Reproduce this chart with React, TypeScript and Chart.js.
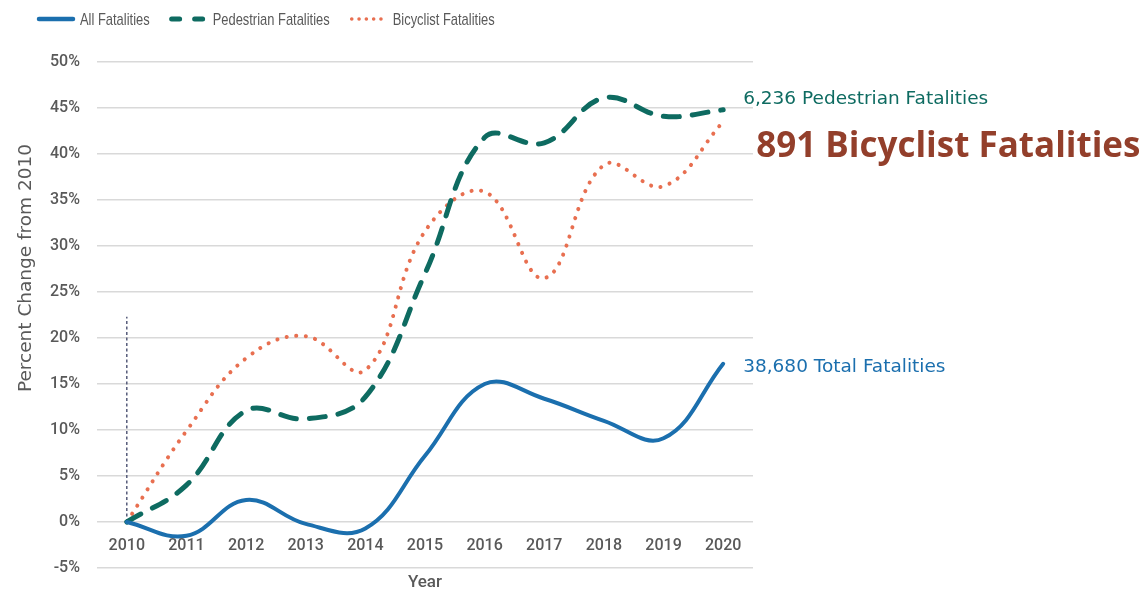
import React, { useEffect, useRef } from "react";
import { Chart, registerables } from "chart.js";

Chart.register(...registerables);

const years = ["2010", "2011", "2012", "2013", "2014", "2015", "2016", "2017", "2018", "2019", "2020"];
const allFatalities = [0, -1.5, 2.4, -0.2, -0.7, 7.2, 15.0, 13.4, 11.0, 9.1, 17.2];
const pedestrianFatalities = [0, 4.0, 12.1, 11.2, 13.6, 27.0, 41.8, 41.2, 46.1, 44.1, 44.8];
const bicyclistFatalities = [0, 9.9, 17.8, 20.2, 16.5, 31.6, 35.9, 26.5, 38.8, 36.5, 43.5];
const seriesNames = ["All Fatalities", "Pedestrian Fatalities", "Bicyclist Fatalities"];
const endLabels = ["38,680 Total Fatalities", "6,236 Pedestrian Fatalities", "891 Bicyclist Fatalities"];
const yAxisTitle = "Percent Change from 2010";
const xAxisTitle = "Year";
const baselineMarkerTop = 22.3;

const BLUE = "#1b6fae";
const GREEN = "#0e6b61";
const ORANGE = "#e86f50";
const BROWN = "#933f2b";
const GREY = "#595959";

const legendStyles = [
  { color: BLUE, width: 4.5, dash: [] as number[] },
  { color: GREEN, width: 5, dash: [8, 15] },
  { color: ORANGE, width: 3.5, dash: [0.1, 7.2] },
];

export default function App() {
  const ref = useRef<HTMLCanvasElement | null>(null);

  useEffect(() => {
    if (!ref.current) return;

    const annotate = {
      id: "annotate",
      beforeDatasetsDraw(chart: any) {
        const { ctx, scales } = chart;
        const x = scales.x.getPixelForValue(0);
        ctx.save();
        ctx.strokeStyle = "#565b7a";
        ctx.lineWidth = 1.5;
        ctx.setLineDash([3, 2.5]);
        ctx.beginPath();
        ctx.moveTo(x, scales.y.getPixelForValue(0));
        ctx.lineTo(x, scales.y.getPixelForValue(baselineMarkerTop));
        ctx.stroke();
        ctx.restore();
      },
      afterDatasetsDraw(chart: any) {
        const { ctx, scales, chartArea } = chart;
        const last = years.length - 1;
        const xr = scales.x.getPixelForValue(last) + 20;

        // category labels along the 0% line
        ctx.save();
        ctx.textBaseline = "middle";
        ctx.textAlign = "center";
        ctx.font = "500 16px Roboto";
        ctx.fillStyle = GREY;
        const y0 = scales.y.getPixelForValue(0);
        years.forEach((yr, i) => {
          ctx.fillText(yr, scales.x.getPixelForValue(i), y0 + 24);
        });
        ctx.restore();

        // end-of-line labels
        ctx.save();
        ctx.textBaseline = "middle";
        ctx.textAlign = "left";
        ctx.font = "18.5px 'DejaVu Sans'";
        ctx.fillStyle = BLUE;
        ctx.fillText(endLabels[0], xr, scales.y.getPixelForValue(allFatalities[last]) + 3);
        ctx.fillStyle = GREEN;
        ctx.fillText(endLabels[1], xr, scales.y.getPixelForValue(pedestrianFatalities[last]) - 11);
        ctx.fillStyle = BROWN;
        ctx.font = "bold 35px 'Open Sans'";
        ctx.fillText(endLabels[2], xr + 13, scales.y.getPixelForValue(bicyclistFatalities[last]) + 25);
        ctx.restore();

        // x axis title
        ctx.save();
        ctx.textBaseline = "middle";
        ctx.textAlign = "center";
        ctx.font = "500 17px Roboto";
        ctx.fillStyle = GREY;
        ctx.fillText(xAxisTitle, (chartArea.left + chartArea.right) / 2, chartArea.bottom + 15);
        ctx.restore();

        // y axis title
        ctx.save();
        ctx.translate(26, 268);
        ctx.rotate(-Math.PI / 2);
        ctx.textBaseline = "middle";
        ctx.textAlign = "center";
        ctx.font = "18.5px 'DejaVu Sans'";
        ctx.fillStyle = GREY;
        ctx.fillText(yAxisTitle, 0, 0);
        ctx.restore();

        // legend
        let x0 = 37;
        const ly = 19;
        chart.data.datasets.forEach((ds: any, i: number) => {
          const st = legendStyles[i];
          ctx.save();
          ctx.strokeStyle = st.color;
          ctx.lineWidth = st.width;
          ctx.lineCap = "round";
          ctx.setLineDash(st.dash);
          ctx.beginPath();
          ctx.moveTo(x0 + 2, ly);
          ctx.lineTo(x0 + 36, ly);
          ctx.stroke();
          ctx.restore();
          ctx.save();
          ctx.font = "17px 'Liberation Sans'";
          ctx.textAlign = "left";
          ctx.textBaseline = "middle";
          const w = ctx.measureText(ds.label).width * 0.76;
          ctx.translate(x0 + 43, ly);
          ctx.scale(0.76, 1);
          ctx.fillStyle = GREY;
          ctx.fillText(ds.label, 0, 1);
          ctx.restore();
          x0 = x0 + 43 + w + 20;
        });
      },
    };

    const chart = new Chart(ref.current, {
      type: "line",
      data: {
        labels: years,
        datasets: [
          {
            label: seriesNames[0],
            data: allFatalities,
            borderColor: BLUE,
            backgroundColor: BLUE,
            borderWidth: 4,
            tension: 0.4,
            pointRadius: 0,
            borderCapStyle: "round",
          },
          {
            label: seriesNames[1],
            data: pedestrianFatalities,
            borderColor: GREEN,
            backgroundColor: GREEN,
            borderWidth: 5,
            tension: 0.4,
            pointRadius: 0,
            borderDash: [16, 13],
            borderCapStyle: "round",
          },
          {
            label: seriesNames[2],
            data: bicyclistFatalities,
            borderColor: ORANGE,
            backgroundColor: ORANGE,
            borderWidth: 4,
            tension: 0.4,
            pointRadius: 0,
            borderDash: [0.1, 9.5],
            borderCapStyle: "round",
          },
        ],
      },
      options: {
        animation: false,
        responsive: true,
        maintainAspectRatio: false,
        layout: { padding: { left: 47, right: 392, top: 62, bottom: 23 } },
        plugins: {
          legend: { display: false },
          tooltip: { enabled: false },
        },
        scales: {
          x: {
            type: "category",
            display: false,
            offset: true,
          },
          y: {
            min: -5,
            max: 50,
            grid: {
              color: "#d9d9d9",
              lineWidth: 1.5,
              drawTicks: true,
              tickLength: 14,
              tickColor: "rgba(0,0,0,0)",
            },
            border: { display: false },
            ticks: {
              stepSize: 5,
              color: GREY,
              padding: 3,
              font: { family: "Roboto", size: 16, weight: "500" },
              callback: (v: any) => `${v}%`,
            },
          },
        },
      },
      plugins: [annotate],
    } as any);

    return () => chart.destroy();
  }, []);

  return (
    <div style={{ position: "absolute", left: 0, top: 0, width: 1145, height: 591, background: "#fff" }}>
      <canvas ref={ref} />
    </div>
  );
}
